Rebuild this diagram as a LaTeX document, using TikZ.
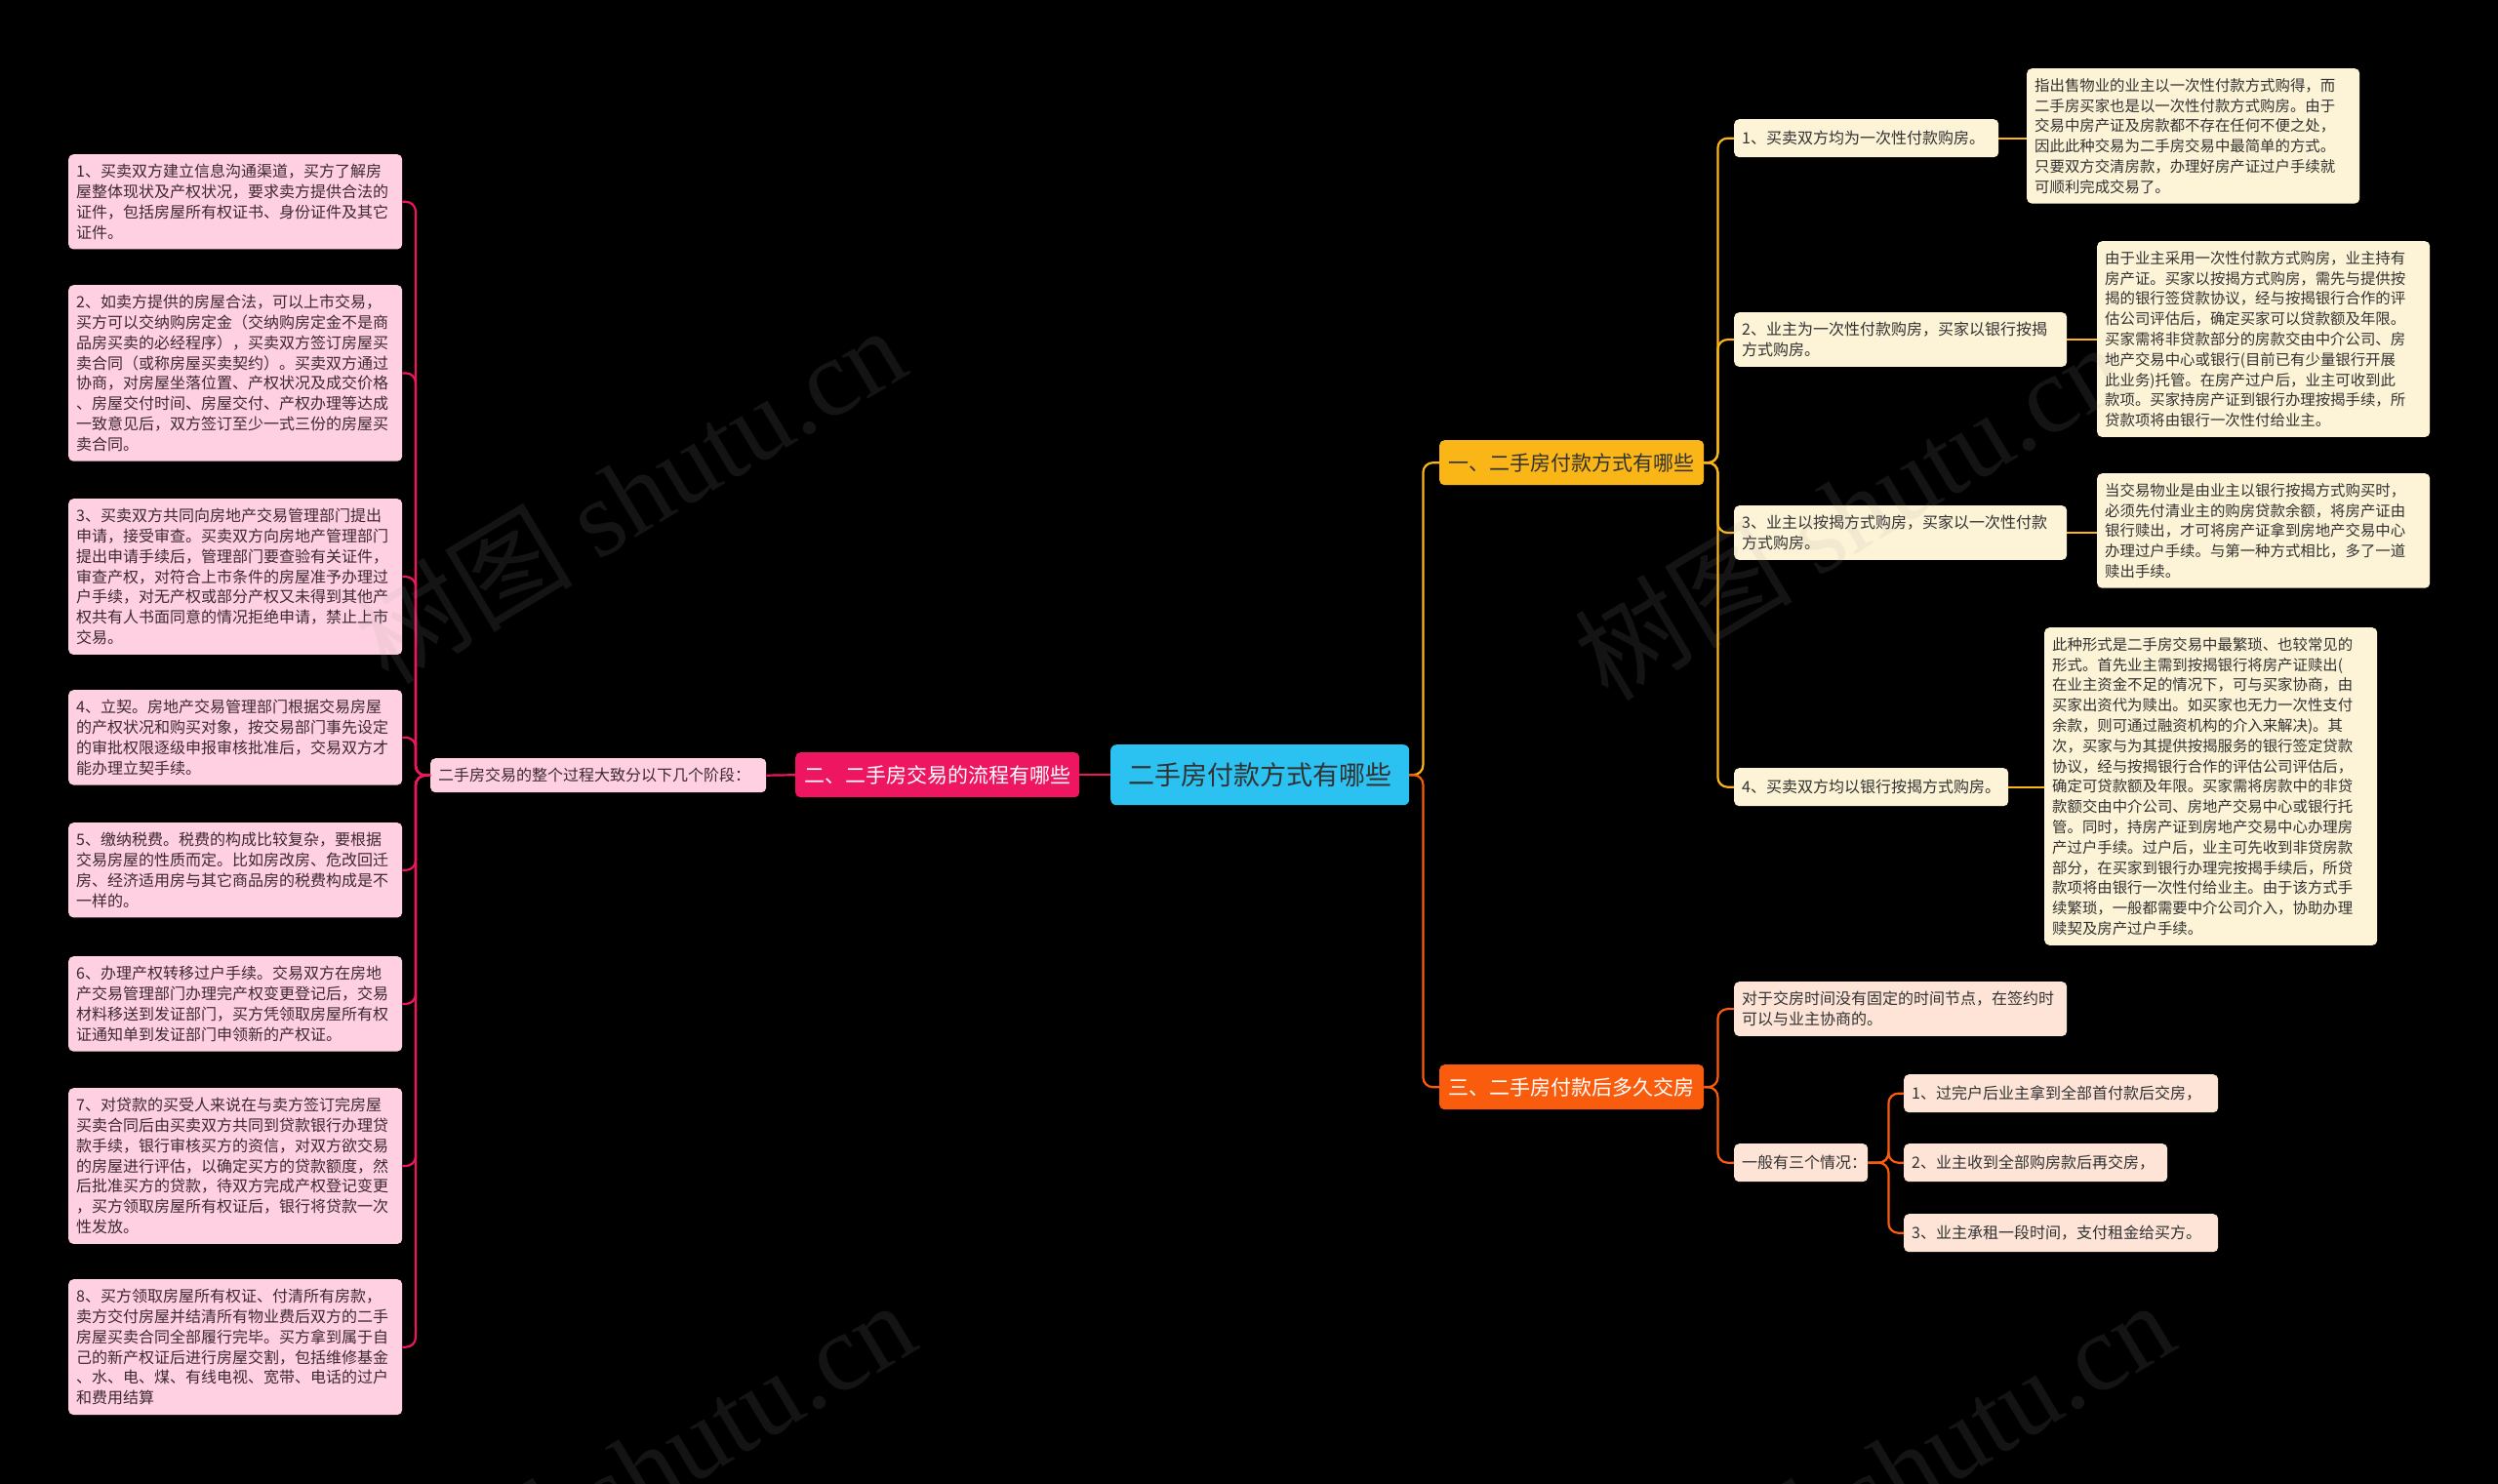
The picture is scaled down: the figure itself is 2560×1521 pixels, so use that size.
\documentclass[tikz,border=0pt]{standalone}
\usepackage{fontspec}
\setmainfont{Noto Sans CJK SC}
\newfontfamily\wmlatin{Liberation Serif}

\definecolor{rootcyan}{RGB}{43,194,241}
\definecolor{flowred}{RGB}{238,22,96}
\definecolor{pinkfill}{RGB}{255,208,225}
\definecolor{pinktext}{RGB}{62,40,50}
\definecolor{payamber}{RGB}{250,182,22}
\definecolor{creamfill}{RGB}{253,243,214}
\definecolor{handorange}{RGB}{250,92,14}
\definecolor{peachfill}{RGB}{253,228,214}
\definecolor{txtdark}{RGB}{50,50,50}

\tikzset{
  rootbox/.style={rounded corners=6pt, fill=rootcyan, text=txtdark, anchor=north west,
    minimum width=306pt, minimum height=62pt, font=\fontsize{27}{30}\selectfont},
  branch/.style={rounded corners=5pt, anchor=north west, minimum height=46pt,
    text=txtdark, font=\fontsize{21}{24}\selectfont},
  box/.style={rounded corners=5pt, anchor=north west, align=left, inner xsep=8pt,
    inner ysep=10pt, minimum height=39pt, text=txtdark, font=\fontsize{16}{20.8}\selectfont},
  pinkbox/.style={box, fill=pinkfill, text=pinktext, text width=326pt},
  creambox/.style={box, fill=creamfill},
  notebox/.style={box, fill=creamfill, text width=325pt, font=\fontsize{15.4}{20.8}\selectfont},
  peachbox/.style={box, fill=peachfill},
  link/.style={line width=2.2pt, rounded corners=10pt},
  wmark/.style={rotate=31, text=gray!70, text opacity=0.12, font=\fontsize{112}{112}\selectfont}
}

\begin{document}
\begin{tikzpicture}[x=1pt, y=-1pt]
  \fill[black] (0,0) rectangle (2560,1521);
  \useasboundingbox (0,0) rectangle (2560,1521);

  % centre and main branches
  \node[rootbox] (root) at (1138,763) {二手房付款方式有哪些};
  \node[branch, fill=flowred, text=white, minimum width=291pt] (flow) at (815,771) {二、二手房交易的流程有哪些};
  \node[branch, fill=payamber, minimum width=271pt] (pay) at (1475,451) {一、二手房付款方式有哪些};
  \node[branch, fill=handorange, text=white, minimum width=271pt] (hand) at (1475,1091) {三、二手房付款后多久交房};

  % branch two: stages of a deal
  \node[pinkbox, text width=328pt, minimum height=35pt] (stages) at (441,777) {二手房交易的整个过程大致分以下几个阶段：};
  \node[pinkbox] (step1) at (70,158) {1、买卖双方建立信息沟通渠道，买方了解房\\屋整体现状及产权状况，要求卖方提供合法的\\证件，包括房屋所有权证书、身份证件及其它\\证件。};
  \node[pinkbox] (step2) at (70,292) {2、如卖方提供的房屋合法，可以上市交易，\\买方可以交纳购房定金（交纳购房定金不是商\\品房买卖的必经程序），买卖双方签订房屋买\\卖合同（或称房屋买卖契约）。买卖双方通过\\协商，对房屋坐落位置、产权状况及成交价格\\、房屋交付时间、房屋交付、产权办理等达成\\一致意见后，双方签订至少一式三份的房屋买\\卖合同。};
  \node[pinkbox] (step3) at (70,511) {3、买卖双方共同向房地产交易管理部门提出\\申请，接受审查。买卖双方向房地产管理部门\\提出申请手续后，管理部门要查验有关证件，\\审查产权，对符合上市条件的房屋准予办理过\\户手续，对无产权或部分产权又未得到其他产\\权共有人书面同意的情况拒绝申请，禁止上市\\交易。};
  \node[pinkbox] (step4) at (70,707) {4、立契。房地产交易管理部门根据交易房屋\\的产权状况和购买对象，按交易部门事先设定\\的审批权限逐级申报审核批准后，交易双方才\\能办理立契手续。};
  \node[pinkbox] (step5) at (70,843) {5、缴纳税费。税费的构成比较复杂，要根据\\交易房屋的性质而定。比如房改房、危改回迁\\房、经济适用房与其它商品房的税费构成是不\\一样的。};
  \node[pinkbox] (step6) at (70,980) {6、办理产权转移过户手续。交易双方在房地\\产交易管理部门办理完产权变更登记后，交易\\材料移送到发证部门，买方凭领取房屋所有权\\证通知单到发证部门申领新的产权证。};
  \node[pinkbox] (step7) at (70,1115) {7、对贷款的买受人来说在与卖方签订完房屋\\买卖合同后由买卖双方共同到贷款银行办理贷\\款手续，银行审核买方的资信，对双方欲交易\\的房屋进行评估，以确定买方的贷款额度，然\\后批准买方的贷款，待双方完成产权登记变更\\，买方领取房屋所有权证后，银行将贷款一次\\性发放。};
  \node[pinkbox] (step8) at (70,1311) {8、买方领取房屋所有权证、付清所有房款，\\卖方交付房屋并结清所有物业费后双方的二手\\房屋买卖合同全部履行完毕。买方拿到属于自\\己的新产权证后进行房屋交割，包括维修基金\\、水、电、煤、有线电视、宽带、电话的过户\\和费用结算};

  % branch one: ways to pay
  \node[creambox, text width=255pt] (way1) at (1777,122) {1、买卖双方均为一次性付款购房。};
  \node[creambox, text width=325pt] (way2) at (1777,320) {2、业主为一次性付款购房，买家以银行按揭\\方式购房。};
  \node[creambox, text width=325pt] (way3) at (1777,518) {3、业主以按揭方式购房，买家以一次性付款\\方式购房。};
  \node[creambox, text width=265pt] (way4) at (1777,787) {4、买卖双方均以银行按揭方式购房。};
  \node[notebox] (note1) at (2077,70) {指出售物业的业主以一次性付款方式购得，而\\二手房买家也是以一次性付款方式购房。由于\\交易中房产证及房款都不存在任何不便之处，\\因此此种交易为二手房交易中最简单的方式。\\只要双方交清房款，办理好房产证过户手续就\\可顺利完成交易了。};
  \node[notebox] (note2) at (2149,247) {由于业主采用一次性付款方式购房，业主持有\\房产证。买家以按揭方式购房，需先与提供按\\揭的银行签贷款协议，经与按揭银行合作的评\\估公司评估后，确定买家可以贷款额及年限。\\买家需将非贷款部分的房款交由中介公司、房\\地产交易中心或银行(目前已有少量银行开展\\此业务)托管。在房产过户后，业主可收到此\\款项。买家持房产证到银行办理按揭手续，所\\贷款项将由银行一次性付给业主。};
  \node[notebox] (note3) at (2149,485) {当交易物业是由业主以银行按揭方式购买时，\\必须先付清业主的购房贷款余额，将房产证由\\银行赎出，才可将房产证拿到房地产交易中心\\办理过户手续。与第一种方式相比，多了一道\\赎出手续。};
  \node[notebox] (note4) at (2095,643) {此种形式是二手房交易中最繁琐、也较常见的\\形式。首先业主需到按揭银行将房产证赎出(\\在业主资金不足的情况下，可与买家协商，由\\买家出资代为赎出。如买家也无力一次性支付\\余款，则可通过融资机构的介入来解决)。其\\次，买家与为其提供按揭服务的银行签定贷款\\协议，经与按揭银行合作的评估公司评估后，\\确定可贷款额及年限。买家需将房款中的非贷\\款额交由中介公司、房地产交易中心或银行托\\管。同时，持房产证到房地产交易中心办理房\\产过户手续。过户后，业主可先收到非贷房款\\部分，在买家到银行办理完按揭手续后，所贷\\款项将由银行一次性付给业主。由于该方式手\\续繁琐，一般都需要中介公司介入，协助办理\\赎契及房产过户手续。};

  % branch three: when the house is handed over
  \node[peachbox, text width=325pt] (hand1) at (1777,1006) {对于交房时间没有固定的时间节点，在签约时\\可以与业主协商的。};
  \node[peachbox, text width=121pt] (hand2) at (1777,1172) {一般有三个情况：};
  \node[peachbox, text width=306pt] (case1) at (1951,1101) {1、过完户后业主拿到全部首付款后交房，};
  \node[peachbox, text width=254pt] (case2) at (1951,1172) {2、业主收到全部购房款后再交房，};
  \node[peachbox, text width=306pt] (case3) at (1951,1244) {3、业主承租一段时间，支付租金给买方。};

  % connectors
  \draw[link, flowred] (root.west) -- (flow.east);
  \draw[link, flowred] (flow.west) -- (stages.east);
  \foreach \n in {1,...,8}
    \draw[link, flowred] (stages.west) -- ++(-15,0) |- (step\n.east);

  \draw[link, payamber] (root.east) -- ++(14,0) |- (pay.west);
  \draw[link, handorange] (root.east) -- ++(14,0) |- (hand.west);
  \foreach \n in {1,...,4} {
    \draw[link, payamber] (pay.east) -- ++(14,0) |- (way\n.west);
    \draw[link, payamber] (way\n.east) -- (way\n.east -| note\n.west);
  }
  \foreach \n in {1,2}
    \draw[link, handorange] (hand.east) -- ++(14,0) |- (hand\n.west);
  \foreach \n in {1,2,3}
    \draw[link, handorange] (hand2.east) -- ++(21,0) |- (case\n.west);

  % watermarks
  \node[wmark] (wm1) at (645,506) {树图 {\wmlatin shutu.cn}};
  \node[wmark] (wm2) at (1895,523) {树图 {\wmlatin shutu.cn}};
  \node[wmark] (wm3) at (655,1505) {树图 {\wmlatin shutu.cn}};
  \node[wmark] (wm4) at (1945,1505) {树图 {\wmlatin shutu.cn}};
\end{tikzpicture}
\end{document}
